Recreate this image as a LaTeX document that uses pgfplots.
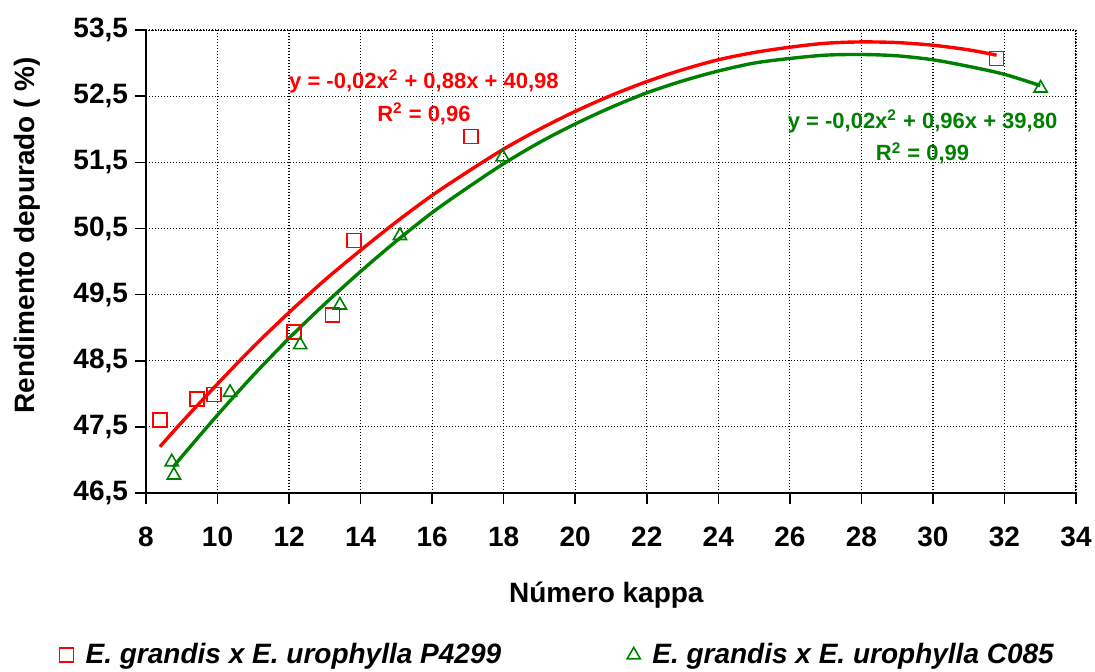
\documentclass[border=0pt]{standalone}
\usepackage{fontspec}
\setmainfont{Liberation Sans}
\usepackage{pgfplots}
\pgfplotsset{compat=1.18}
\definecolor{tlred}{RGB}{255,0,0}
\definecolor{tlgreen}{RGB}{0,128,0}

\begin{document}
\begin{tikzpicture}
\useasboundingbox (-73pt,-89pt) rectangle (474.5pt,246.5pt);
\begin{axis}[
  scale only axis, width=465pt, height=231.5pt,
  at={(0,0)}, anchor=south west,
  xmin=8, xmax=34, ymin=46.5, ymax=53.5,
  xtick={8,10,...,34}, ytick={46.5,47.5,...,53.5},
  axis lines=left, axis line style={-, line width=1pt},
  tick align=outside, major tick length=5.5pt,
  tick style={black, line width=0.8pt},
  grid=major, grid style={black, line width=0.6pt, dash pattern=on 0.6pt off 0.9pt},
  /pgf/number format/assume math mode=true,
  tick label style={font=\fontsize{14}{16}\selectfont\bfseries},
  yticklabel style={/pgf/number format/.cd, fixed, fixed zerofill, precision=1, use comma},
  xticklabel style={yshift=-8pt},
  xlabel={Número kappa}, ylabel={Rendimento depurado ( \%)},
  label style={font=\fontsize{14}{16}\selectfont\bfseries},
  xlabel style={at={(axis description cs:0.495,-0.22)}, anchor=center},
  ylabel style={at={(axis description cs:-0.1274,0.557)}, anchor=center},
  legend style={draw=none, fill=none, legend columns=2,
    at={(axis description cs:-0.0997,-0.35)}, anchor=west,
    font=\fontsize{14}{16}\selectfont\bfseries\itshape,
    /tikz/every odd column/.append style={column sep=4pt},
    /tikz/every even column/.append style={column sep=61pt}},
]
% trend lines
\addplot[tlred, line width=1.7pt, smooth, forget plot] coordinates {
  (8.39,47.20) (9,47.57) (10,48.15) (11,48.71) (12,49.23) (13,49.72)
  (14,50.17) (15,50.60) (16,51.00) (17,51.36) (18,51.70) (19,52.00)
  (20,52.27) (21,52.51) (22,52.72) (23,52.90) (24,53.05) (25,53.16)
  (26,53.24) (27,53.30) (28,53.32) (29,53.31) (30,53.27) (31,53.20)
  (31.78,53.12)};
\addplot[tlgreen, line width=1.7pt, smooth, forget plot] coordinates {
  (8.76,46.89) (9,47.05) (10,47.68) (11,48.28) (12,48.84) (13,49.36)
  (14,49.85) (15,50.31) (16,50.74) (17,51.12) (18,51.48) (19,51.80)
  (20,52.08) (21,52.33) (22,52.55) (23,52.73) (24,52.88) (25,53.00)
  (26,53.07) (27,53.12) (28,53.13) (29,53.11) (30,53.05) (31,52.95)
  (32,52.83) (33,52.66)};
% measured points
\addplot[only marks, mark=square, color=tlred, mark size=3.5pt,
         mark options={solid, draw=tlred, fill=white, line width=0.8pt}]
  coordinates {(8.39,47.60) (9.43,47.92) (9.90,47.99) (12.14,48.93)
               (13.21,49.19) (13.81,50.32) (17.08,51.89) (31.78,53.07)};
\addlegendentry{E. grandis x E. urophylla P4299}
\addplot[only marks, mark=triangle, color=tlgreen, mark size=3.8pt,
         mark options={solid, draw=tlgreen, fill=none, line width=0.8pt}]
  coordinates {(8.72,46.97) (8.78,46.77) (10.35,48.02) (12.31,48.74)
               (13.42,49.34) (15.10,50.39) (17.97,51.58) (33.01,52.62)};
\addlegendentry{E. grandis x E. urophylla C085}
% equations
\node[tlred, font=\fontsize{11}{13}\selectfont\bfseries, anchor=base]
  at (axis cs:15.77,52.62) {y = -0,02x\textsuperscript{2} + 0,88x + 40,98};
\node[tlred, font=\fontsize{11}{13}\selectfont\bfseries, anchor=base]
  at (axis cs:15.77,52.12) {R\textsuperscript{2} = 0,96};
\node[tlgreen, font=\fontsize{11}{13}\selectfont\bfseries, anchor=base]
  at (axis cs:29.71,52.01) {y = -0,02x\textsuperscript{2} + 0,96x + 39,80};
\node[tlgreen, font=\fontsize{11}{13}\selectfont\bfseries, anchor=base]
  at (axis cs:29.71,51.52) {R\textsuperscript{2} = 0,99};
\draw[black, line width=1.2pt, dash pattern=on 0.6pt off 0.6pt]
  (rel axis cs:0,1) -- (rel axis cs:1,1) -- (rel axis cs:1,0);
\end{axis}
\end{tikzpicture}
\end{document}
